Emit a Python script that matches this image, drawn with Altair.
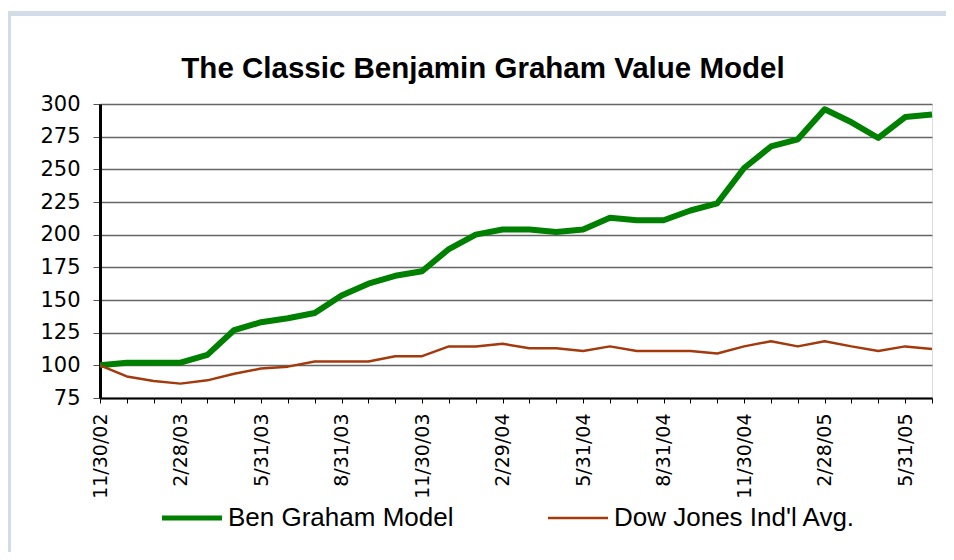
import json
import altair as alt
import pandas as pd

# ---------------- data ----------------
dates = [
    "11/30/02", "12/31/02", "1/31/03", "2/28/03", "3/31/03", "4/30/03",
    "5/31/03", "6/30/03", "7/31/03", "8/31/03", "9/30/03", "10/31/03",
    "11/30/03", "12/31/03", "1/31/04", "2/29/04", "3/31/04", "4/30/04",
    "5/31/04", "6/30/04", "7/31/04", "8/31/04", "9/30/04", "10/31/04",
    "11/30/04", "12/31/04", "1/31/05", "2/28/05", "3/31/05", "4/30/05",
    "5/31/05", "6/30/05",
]
tick_labels = [
    "11/30/02", "2/28/03", "5/31/03", "8/31/03", "11/30/03", "2/29/04",
    "5/31/04", "8/31/04", "11/30/04", "2/28/05", "5/31/05",
]
graham = [
    100, 102, 102, 102, 108, 127, 133, 136, 140, 153.5, 162.5, 168.5,
    172, 189, 200, 204, 204, 202, 204, 213, 211, 211, 218.5, 224,
    251, 267.5, 273, 296, 286, 274, 290, 292,
]
dow = [
    100, 91.5, 88, 86, 88.5, 93.5, 97.5, 99, 103, 103, 103, 107,
    107, 114.5, 114.5, 116.5, 113, 113, 111, 114.5, 111, 111, 111, 109,
    114.5, 118.5, 114.5, 118.5, 114.5, 111, 114.5, 112.5,
]
series_names = ["Ben Graham Model", "Dow Jones Ind'l Avg."]
series_colors = ["#008000", "#a33a0c"]
y_ticks = [75, 100, 125, 150, 175, 200, 225, 250, 275, 300]
title_text = "The Classic Benjamin Graham Value Model"

rows = []
for name, vals in zip(series_names, [graham, dow]):
    for d, v in zip(dates, vals):
        rows.append({"date": d, "value": v, "series": name})
df = pd.DataFrame(rows)

W, H = 832, 294
PAD = {"left": 92, "top": 96, "right": 14, "bottom": 154}
FRAME = "#d2dce7"

label_expr = "indexof(" + json.dumps(tick_labels) + ", datum.value) >= 0 ? datum.value : ''"

lines = alt.Chart(df).mark_line(strokeJoin="round", clip=False).encode(
    x=alt.X(
        "date:O",
        sort=dates,
        scale=alt.Scale(type="point", padding=0),
        axis=alt.Axis(
            title=None,
            labelAngle=270,
            labelExpr=label_expr,
            labelOverlap=False,
            labelFont="DejaVu Sans",
            labelFontSize=19,
            labelColor="black",
            labelPadding=10,
            domainColor="black",
            domainWidth=2,
            tickColor="black",
            tickSize=5,
            tickWidth=1,
            grid=False,
        ),
    ),
    y=alt.Y(
        "value:Q",
        scale=alt.Scale(domain=[75, 300], nice=False, zero=False),
        axis=alt.Axis(
            title=None,
            values=y_ticks,
            labelFont="DejaVu Sans",
            labelFontSize=21,
            labelColor="black",
            labelPadding=13,
            domainColor="black",
            domainWidth=3,
            tickColor="#555",
            tickSize=7,
            tickWidth=1,
            grid=True,
            gridColor="#666666",
            gridWidth=1.5,
        ),
    ),
    color=alt.Color(
        "series:N",
        sort=series_names,
        scale=alt.Scale(domain=series_names, range=series_colors),
        legend=alt.Legend(
            title=None,
            orient="none",
            legendX=79,
            legendY=401,
            direction="horizontal",
            symbolType="stroke",
            symbolSize=3600,
            symbolStrokeWidth={"expr": "datum.value == 'Ben Graham Model' ? 5 : 2.5"},
            labelFont="Liberation Sans",
            labelFontSize=26,
            labelColor="black",
            labelOffset=23,
            labelLimit=400,
            columnPadding=89,
        ),
    ),
    strokeWidth=alt.condition(
        "datum.series == 'Ben Graham Model'", alt.value(6), alt.value(2.5)
    ),
)

frame_df = pd.DataFrame({"k": [0]})
top_band = alt.Chart(frame_df).mark_rect(color=FRAME).encode(
    x=alt.value(-92), x2=alt.value(W + PAD["right"]),
    y=alt.value(-93), y2=alt.value(-88),
)
left_band = alt.Chart(frame_df).mark_rect(color=FRAME).encode(
    x=alt.value(-92), x2=alt.value(-89),
    y=alt.value(-93), y2=alt.value(H + PAD["bottom"]),
)

chart = alt.layer(top_band, left_band, lines).properties(
    width=W,
    height=H,
    padding=PAD,
    autosize=alt.AutoSizeParams(type="none"),
    title=alt.TitleParams(
        title_text,
        font="Liberation Sans",
        fontSize=29.5,
        fontWeight="bold",
        color="black",
        anchor="middle",
        frame="group",
        dx=-33,
        dy=93,
        offset=20,
    ),
).configure_view(
    stroke="black", strokeWidth=3
).configure(background="white")

chart.save("out.html", embed_options={"renderer": "svg", "actions": False})
